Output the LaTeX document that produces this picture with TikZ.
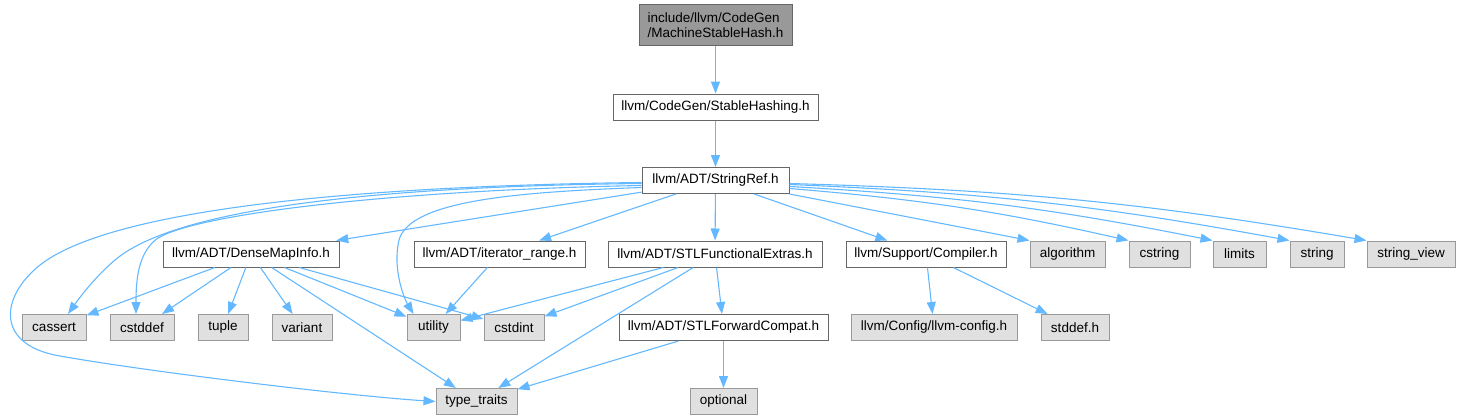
\documentclass[tikz,border=0pt]{standalone}
\usepackage{fontspec}
\setmainfont{Liberation Sans}
\usepackage{xcolor}
\usetikzlibrary{arrows.meta}
\definecolor{depblue}{RGB}{99,184,255}
\definecolor{hdrgray}{RGB}{102,102,102}
\definecolor{sysgray}{RGB}{153,153,153}
\definecolor{sysfill}{RGB}{224,224,224}
\definecolor{mainfill}{RGB}{153,153,153}
\newcommand{\gfont}{\fontsize{13.5}{15}\selectfont}

\begin{document}
\begin{tikzpicture}[
    x=1pt, y=1pt,
    hdr/.style={rectangle, draw=hdrgray, line width=1pt, fill=white, minimum width=#1, minimum height=26, inner sep=0pt, font=\gfont},
    sys/.style={rectangle, draw=sysgray, line width=1pt, fill=sysfill, minimum width=#1, minimum height=26, inner sep=0pt, font=\gfont},
    mainfile/.style={rectangle, draw=hdrgray, line width=1pt, fill=mainfill, minimum width=153, minimum height=41, inner sep=0pt, align=left, font=\gfont},
    dep/.style={-{Triangle[length=12pt, width=9pt]}, depblue, line width=1.1pt}
]
\useasboundingbox (0,0) rectangle (1461,-420);

% Main file and first includes
\node[mainfile] (mshash) at (715.5,-25.5) {include/llvm/CodeGen\\/MachineStableHash.h};
\node[hdr=205] (shash) at (715.5,-107) {llvm/CodeGen/StableHashing.h};
\node[hdr=147] (sref) at (715.5,-180.5) {llvm/ADT/StringRef.h};

% Second row
\node[hdr=176] (dmi) at (251,-254) {llvm/ADT/DenseMapInfo.h};
\node[hdr=171] (itr) at (499.5,-254) {llvm/ADT/iterator\_range.h};
\node[hdr=214] (stlfe) at (715,-254) {llvm/ADT/STLFunctionalExtras.h};
\node[hdr=160] (comp) at (926,-254) {llvm/Support/Compiler.h};
\node[sys=75] (algo) at (1067.5,-254) {algorithm};
\node[sys=61] (cstr) at (1159.5,-254) {cstring};
\node[sys=53] (lim) at (1239.5,-254) {limits};
\node[sys=54] (str) at (1317,-254) {string};
\node[sys=88] (strv) at (1411,-254) {string\_view};

% Third row
\node[sys=64] (cass) at (54,-327.5) {cassert};
\node[sys=64] (cstdd) at (142,-327.5) {cstddef};
\node[sys=50] (tup) at (223,-327.5) {tuple};
\node[sys=60] (var) at (302,-327.5) {variant};
\node[sys=53] (util) at (433.5,-327.5) {utility};
\node[sys=60] (cint) at (514,-327.5) {cstdint};
\node[hdr=209] (stlfc) at (723.5,-327.5) {llvm/ADT/STLForwardCompat.h};
\node[sys=166] (llcfg) at (934,-327.5) {llvm/Config/llvm-config.h};
\node[sys=68] (stdd) at (1075,-327.5) {stddef.h};

% Bottom row
\node[sys=81] (tt) at (476.5,-401.5) {type\_traits};
\node[sys=67] (opt) at (723.5,-401.5) {optional};

% Top chain
\draw[dep] (mshash) -- (shash);
\draw[dep] (shash) -- (sref);

% StringRef includes
\draw[dep] (sref) -- (dmi);
\draw[dep] (sref) -- (itr);
\draw[dep] (sref) -- (stlfe);
\draw[dep] (sref) -- (comp);
\draw[dep] (sref.south east) -- (algo.north west);
\draw[dep] ([yshift=-8pt]sref.east) to[bend left=4] (cstr.north west);
\draw[dep] ([yshift=-6pt]sref.east) to[bend left=4] (lim.north west);
\draw[dep] ([yshift=-4pt]sref.east) to[bend left=4] (str.north west);
\draw[dep] ([yshift=-3pt]sref.east) to[bend left=4] (strv.north west);
\draw[dep] ([yshift=-3pt]sref.west) .. controls (400,-186) and (180,-205) .. (115,-260)
    .. controls (95,-277) and (80,-297) .. ([xshift=14pt]cass.north);
\draw[dep] ([yshift=-5pt]sref.west) .. controls (400,-190) and (200,-213) .. (158,-238)
    .. controls (138,-252) and (136,-280) .. ([xshift=-6pt]cstdd.north);
\draw[dep] ([yshift=-7pt]sref.west) .. controls (520,-192) and (410,-200) .. (399,-240)
    .. controls (392,-270) and (405,-300) .. ([xshift=-20pt]util.north);
\draw[dep] ([yshift=-2pt]sref.west) .. controls (350,-186) and (110,-210) .. (40,-265)
    .. controls (0,-297) and (-5,-345) .. (60,-356)
    .. controls (150,-372) and (350,-396) .. (tt.west);

% DenseMapInfo includes
\foreach \dst in {cass, cstdd, tup, var, util, cint, tt}
    \draw[dep] (dmi) -- (\dst);

% Other includes
\draw[dep] (itr) -- (util);
\foreach \dst in {util, cint, tt, stlfc}
    \draw[dep] (stlfe) -- (\dst);
\draw[dep] (stlfc) -- (tt);
\draw[dep] (stlfc) -- (opt);
\draw[dep] (comp) -- (llcfg);
\draw[dep] (comp) -- (stdd);

\end{tikzpicture}
\end{document}
